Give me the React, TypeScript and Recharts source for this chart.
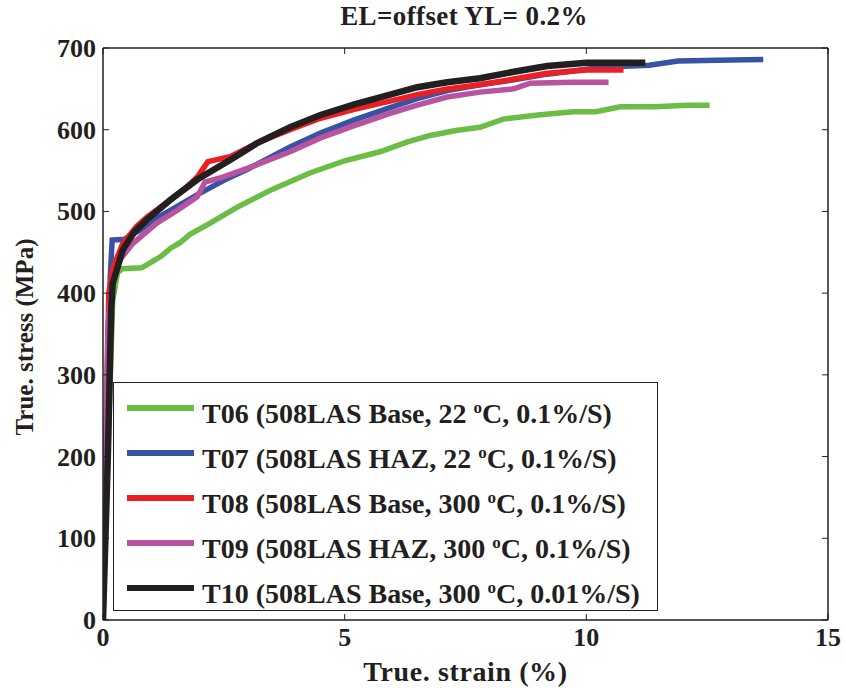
import React from 'react'
import { LineChart, Line, XAxis, YAxis, ReferenceLine, Legend } from 'recharts'

const CHART_W = 846
const CHART_H = 689
const MARGIN = { top: 48, right: 18, bottom: 0, left: 0 }
const PLOT_RIGHT = CHART_W - MARGIN.right
const PLOT_TOP = MARGIN.top
const INK = '#231f20'
const FONT = '"Liberation Serif", "Times New Roman", serif'

const xTicks = [0, 5, 10, 15]
const yTicks = [0, 100, 200, 300, 400, 500, 600, 700]

// true strain (%) / true stress (MPa) per specimen
const t06Strain = [0, 0.1, 0.2, 0.3, 0.4, 0.8, 1.0, 1.2, 1.4, 1.6, 1.8, 2.2, 2.77, 3.5, 4.28, 5.0, 5.73, 6.3, 6.77, 7.3, 7.8, 8.28, 9.0, 9.73, 10.2, 10.7, 11.4, 12.1, 12.55]
const t06Stress = [0, 200, 390, 425, 430, 431, 438, 445, 455, 462, 472, 485, 505, 527, 547, 562, 573, 585, 593, 599, 603, 613, 618, 622, 622, 628, 628, 630, 630]

const t07Strain = [0, 0.1, 0.15, 0.19, 0.45, 0.55, 0.77, 1.0, 1.5, 2.0, 2.5, 3.0, 3.87, 4.5, 5.2, 5.94, 6.5, 7.12, 7.8, 8.5, 9.19, 10.0, 10.5, 11.3, 11.9, 12.7, 13.66]
const t07Stress = [0, 250, 420, 465, 466, 470, 477, 488, 505, 522, 538, 552, 579, 596, 612, 627, 638, 648, 655, 661, 668, 674, 677, 679, 684, 685, 686]

const t08Strain = [0, 0.06, 0.12, 0.2, 0.41, 0.7, 0.91, 1.39, 1.7, 1.95, 2.17, 2.63, 3.2, 3.87, 4.5, 5.2, 5.94, 6.5, 7.12, 7.8, 8.5, 9.19, 10.0, 10.77]
const t08Stress = [0, 200, 400, 430, 461, 482, 493, 514, 528, 542, 561, 567, 584, 600, 614, 625, 635, 643, 650, 655, 662, 669, 673, 673]

const t09Strain = [0, 0.05, 0.1, 0.2, 0.35, 0.62, 0.9, 1.12, 1.5, 1.8, 1.95, 2.11, 2.48, 3.0, 3.87, 4.5, 5.2, 5.94, 6.5, 7.12, 7.8, 8.5, 8.84, 9.73, 10.46]
const t09Stress = [0, 200, 360, 415, 441, 461, 475, 486, 500, 512, 518, 536, 542, 553, 573, 590, 605, 620, 630, 640, 646, 650, 657, 658, 658]

const t10Strain = [0, 0.1, 0.17, 0.2, 0.41, 0.65, 0.91, 1.39, 1.95, 2.63, 3.2, 3.87, 4.5, 5.2, 5.94, 6.5, 7.12, 7.8, 8.5, 9.19, 10.0, 10.5, 11.22]
const t10Stress = [0, 200, 380, 412, 453, 475, 490, 514, 539, 563, 584, 603, 618, 631, 643, 652, 658, 663, 671, 678, 682, 682, 682]

const seriesNames = ['T06', 'T07', 'T08', 'T09', 'T10']
const seriesColors = ['#6bbd45', '#3953a4', '#ed1f24', '#b9539f', '#231f20']
const legendPrefix = [
  'T06 (508LAS Base, 22 ',
  'T07 (508LAS HAZ, 22 ',
  'T08 (508LAS Base, 300 ',
  'T09 (508LAS HAZ, 300 ',
  'T10 (508LAS Base, 300 ',
]
const legendSuffix = ['C, 0.1%/S)', 'C, 0.1%/S)', 'C, 0.1%/S)', 'C, 0.1%/S)', 'C, 0.01%/S)']

const toPoints = (strain: number[], stress: number[]) =>
  strain.map((s, i) => ({ strain: s, stress: stress[i] }))

const series = [
  toPoints(t06Strain, t06Stress),
  toPoints(t07Strain, t07Stress),
  toPoints(t08Strain, t08Stress),
  toPoints(t09Strain, t09Stress),
  toPoints(t10Strain, t10Stress),
]

// MATLAB-style ticks: pointing inward, mirrored on the opposite side of the box
const XTick = ({ x, y, payload }: any) => (
  <g>
    <line x1={x} x2={x} y1={y} y2={y - 6} stroke={INK} strokeWidth={1} />
    <line x1={x} x2={x} y1={PLOT_TOP} y2={PLOT_TOP + 6} stroke={INK} strokeWidth={1} />
    <text x={x} y={y + 26} textAnchor="middle" fontFamily={FONT} fontWeight="bold" fontSize={26} fill={INK}>
      {payload.value}
    </text>
  </g>
)

const YTick = ({ x, y, payload }: any) => (
  <g>
    <line x1={x} x2={x + 6} y1={y} y2={y} stroke={INK} strokeWidth={1} />
    <line x1={PLOT_RIGHT - 6} x2={PLOT_RIGHT} y1={y} y2={y} stroke={INK} strokeWidth={1} />
    <text x={x - 7} y={y + 9} textAnchor="end" fontFamily={FONT} fontWeight="bold" fontSize={26} fill={INK}>
      {payload.value}
    </text>
  </g>
)

const LegendBox = () => (
  <div
    style={{
      width: 545,
      height: 229,
      boxSizing: 'border-box',
      border: `1.5px solid ${INK}`,
      background: '#fff',
      paddingTop: 2,
      fontFamily: FONT,
      fontWeight: 'bold',
      fontSize: 28,
      color: INK,
    }}
  >
    {seriesNames.map((name, i) => (
      <div key={name} style={{ display: 'flex', alignItems: 'center', height: 45, paddingLeft: 13 }}>
        <div style={{ width: 67, height: 6, background: seriesColors[i], marginRight: 8, flex: 'none' }} />
        <span style={{ whiteSpace: 'nowrap', lineHeight: '28px', position: 'relative', top: 3 }}>
          {legendPrefix[i]}
          <sup style={{ fontSize: 17, verticalAlign: 10 }}>o</sup>
          {legendSuffix[i]}
        </span>
      </div>
    ))}
  </div>
)

export default function App() {
  return (
    <div style={{ position: 'absolute', left: 0, top: 0, width: CHART_W, height: CHART_H, background: '#fff' }}>
      <div
        style={{
          position: 'absolute',
          left: 0,
          width: CHART_W,
          top: 1,
          textAlign: 'center',
          paddingLeft: 82,
          boxSizing: 'border-box',
          fontFamily: FONT,
          fontWeight: 'bold',
          fontSize: 27,
          letterSpacing: 0.4,
          color: INK,
        }}
      >
        EL=offset YL= 0.2%
      </div>
      <LineChart width={CHART_W} height={CHART_H} margin={MARGIN}>
        <XAxis
          type="number"
          dataKey="strain"
          domain={[0, 15]}
          ticks={xTicks}
          height={69}
          tickSize={0}
          tickMargin={0}
          tickLine={false}
          tick={<XTick />}
          axisLine={{ stroke: INK, strokeWidth: 1.5 }}
          allowDataOverflow
          label={{
            value: 'True. strain (%)',
            position: 'center',
            dy: 17,
            style: { fontFamily: FONT, fontWeight: 'bold', fontSize: 28, letterSpacing: 0.6, fill: INK },
          }}
        />
        <YAxis
          type="number"
          domain={[0, 700]}
          ticks={yTicks}
          width={103}
          tickSize={0}
          tickMargin={0}
          tickLine={false}
          tick={<YTick />}
          axisLine={{ stroke: INK, strokeWidth: 1.5 }}
          allowDataOverflow
          label={{
            value: 'True. stress (MPa)',
            angle: -90,
            position: 'center',
            dx: -27,
            dy: 3,
            style: { fontFamily: FONT, fontWeight: 'bold', fontSize: 25, fill: INK, textAnchor: 'middle' },
          }}
        />
        <ReferenceLine y={700} stroke={INK} strokeWidth={1.5} />
        <ReferenceLine x={15} stroke={INK} strokeWidth={1.5} />
        {series.map((pts, i) => (
          <Line
            key={seriesNames[i]}
            data={pts}
            dataKey="stress"
            name={seriesNames[i]}
            stroke={seriesColors[i]}
            strokeWidth={i === 4 ? 6.5 : 5.5}
            strokeLinejoin="miter"
            dot={false}
            activeDot={false}
            isAnimationActive={false}
          />
        ))}
        <Legend
          layout="vertical"
          align="center"
          verticalAlign="middle"
          content={<LegendBox />}
          wrapperStyle={{ left: 113, top: 382, width: 545, height: 229 }}
        />
      </LineChart>
    </div>
  )
}
